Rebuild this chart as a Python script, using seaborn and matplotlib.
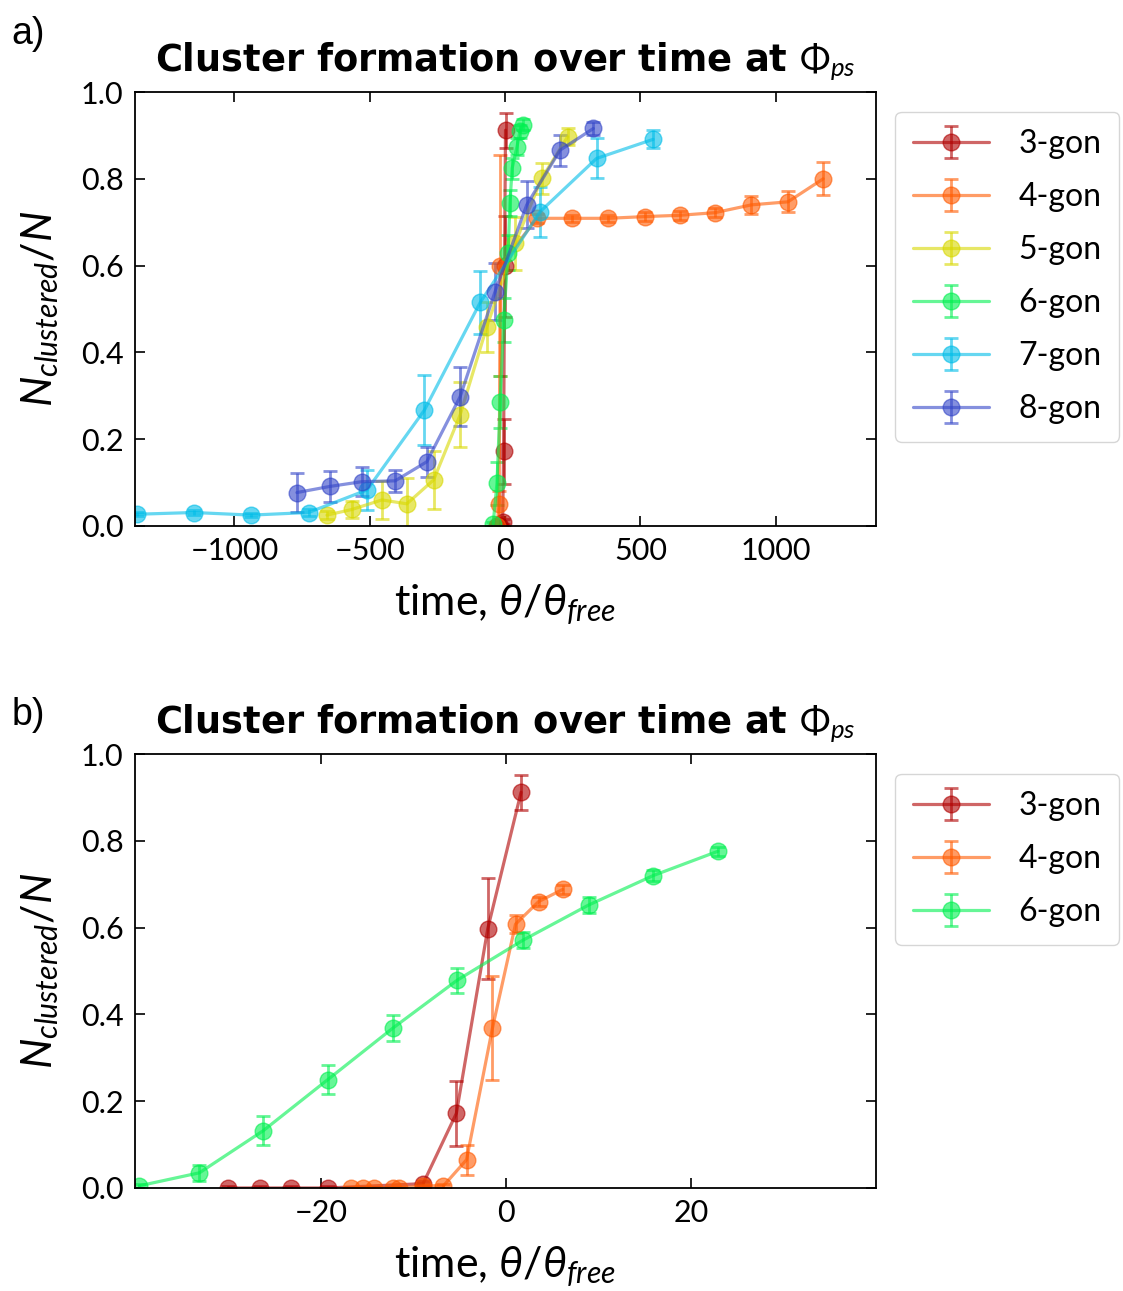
import matplotlib
matplotlib.use("Agg")
import matplotlib.pyplot as plt
import seaborn as sns

# ---------------- data ----------------
labels = ["3-gon", "4-gon", "5-gon", "6-gon", "7-gon", "8-gon"]
colors = ["#b00000", "#ff5a00", "#d8d800", "#00f050", "#00bde8", "#3446c8"]

# 3-gon (shared by both panels)
t3 = [-30.1, -26.7, -23.3, -19.3, -9.0, -5.4, -2.0, 1.6]
y3 = [0.0, 0.0, 0.0, 0.0, 0.01, 0.172, 0.598, 0.912]
e3 = [0.004, 0.004, 0.004, 0.004, 0.006, 0.075, 0.117, 0.04]

# 4-gon, panel a
t4a = [-30, -22, -18, 118, 246, 381, 517, 646, 775, 910, 1045, 1175]
y4a = [0.0, 0.05, 0.60, 0.709, 0.709, 0.709, 0.713, 0.716, 0.722, 0.74, 0.747, 0.80]
e4a = [0.004, 0.03, 0.255, 0.01, 0.008, 0.008, 0.01, 0.01, 0.01, 0.02, 0.024, 0.038]

# 4-gon, panel b
t4b = [-16.8, -15.5, -14.3, -12.3, -11.6, -9.0, -6.8, -4.3, -1.5, 1.0, 3.5, 6.1]
y4b = [0.0, 0.0, 0.0, 0.0, 0.0, 0.005, 0.005, 0.065, 0.368, 0.608, 0.66, 0.688]
e4b = [0.003, 0.003, 0.003, 0.003, 0.003, 0.004, 0.004, 0.035, 0.12, 0.02, 0.01, 0.01]

# 5-gon
t5 = [-658, -566, -455, -363, -264, -166, -68, 37, 135, 231]
y5 = [0.025, 0.038, 0.06, 0.051, 0.106, 0.256, 0.458, 0.651, 0.801, 0.897]
e5 = [0.01, 0.02, 0.044, 0.059, 0.067, 0.075, 0.058, 0.06, 0.035, 0.019]

# 6-gon, panel a
t6a = [-44, -30, -18, -5, 11, 18, 26, 44, 55, 66]
y6a = [0.005, 0.098, 0.286, 0.475, 0.63, 0.744, 0.824, 0.874, 0.91, 0.925]
e6a = [0.005, 0.05, 0.06, 0.05, 0.04, 0.03, 0.025, 0.02, 0.015, 0.012]

# 6-gon, panel b
t6b = [-39.7, -33.2, -26.3, -19.3, -12.3, -5.3, 1.8, 8.9, 15.9, 22.9]
y6b = [0.005, 0.035, 0.132, 0.25, 0.368, 0.479, 0.571, 0.652, 0.72, 0.776]
e6b = [0.005, 0.019, 0.033, 0.034, 0.03, 0.029, 0.018, 0.018, 0.012, 0.01]

# 7-gon
t7 = [-1359, -1150, -938, -726, -510, -298, -92, 129, 338, 547]
y7 = [0.027, 0.031, 0.025, 0.031, 0.083, 0.267, 0.515, 0.724, 0.847, 0.891]
e7 = [0.005, 0.005, 0.005, 0.008, 0.047, 0.08, 0.073, 0.058, 0.046, 0.021]

# 8-gon
t8 = [-769, -648, -529, -406, -289, -166, -37, 80, 203, 326]
y8 = [0.077, 0.091, 0.102, 0.104, 0.148, 0.298, 0.540, 0.74, 0.866, 0.916]
e8 = [0.045, 0.035, 0.033, 0.025, 0.035, 0.068, 0.065, 0.054, 0.036, 0.016]

panel_a = [(t3, y3, e3), (t4a, y4a, e4a), (t5, y5, e5),
           (t6a, y6a, e6a), (t7, y7, e7), (t8, y8, e8)]
panel_b = {0: (t3, y3, e3), 1: (t4b, y4b, e4b), 3: (t6b, y6b, e6b)}

# ---------------- style ----------------
sns.set_theme(style="ticks")
plt.rcParams["font.family"] = ["Lato", "DejaVu Sans"]
plt.rcParams["mathtext.fontset"] = "custom"
plt.rcParams["mathtext.rm"] = "Lato"
plt.rcParams["mathtext.it"] = "Lato:italic"
plt.rcParams["mathtext.bf"] = "Lato:bold"
plt.rcParams["mathtext.fallback"] = "stixsans"
plt.rcParams["axes.unicode_minus"] = True
for key in ("text.color", "axes.labelcolor", "xtick.color", "ytick.color",
            "axes.edgecolor"):
    plt.rcParams[key] = "black"

palette = sns.color_palette(colors)

fig = plt.figure(figsize=(11.23, 12.91), dpi=100)
ax_a = fig.add_axes([0.120, 0.5926, 0.660, 0.3361])
ax_b = fig.add_axes([0.120, 0.0798, 0.660, 0.3361])


def draw(ax, series):
    for i, (t, y, e) in series:
        ax.errorbar(t, y, yerr=e, color=palette[i], alpha=0.6,
                    marker="o", markersize=12, linewidth=2.3,
                    elinewidth=2.0, capsize=5, capthick=2.0,
                    label=labels[i])


def style(ax, xlim, xticks):
    ax.set_xlim(*xlim)
    ax.set_ylim(0.0, 1.0)
    ax.set_xticks(xticks)
    ax.set_yticks([0.0, 0.2, 0.4, 0.6, 0.8, 1.0])
    ax.yaxis.set_major_formatter(matplotlib.ticker.FormatStrFormatter("%.1f"))
    ax.tick_params(direction="in", top=True, right=True, length=7, width=1.2,
                   labelsize=22, pad=8, color="black", labelcolor="black")
    for s in ax.spines.values():
        s.set_linewidth(1.3)
        s.set_color("black")
    ax.set_title(r"Cluster formation over time at $\Phi_{ps}$", fontsize=26.5,
                 fontweight="bold", family=["DejaVu Sans"], pad=15,
                 color="black")
    ax.set_xlabel(r"time, $\theta/\theta_{free}$", fontsize=31, labelpad=13)
    ax.set_ylabel(r"$N_{clustered}/N$", fontsize=31, labelpad=14)
    ax.legend(loc="upper left", bbox_to_anchor=(1.026, 0.955), fontsize=23,
              handlelength=2.4, labelspacing=0.72, borderpad=0.55,
              frameon=True, fancybox=True, edgecolor="#cccccc",
              handletextpad=0.9, borderaxespad=0.0)


draw(ax_a, list(enumerate(panel_a)))
style(ax_a, (-1368, 1370), [-1000, -500, 0, 500, 1000])

draw(ax_b, sorted(panel_b.items()))
style(ax_b, (-40.2, 40.0), [-20, 0, 20])

fig.text(0.010, 0.966, "a)", fontsize=27, family="Liberation Sans")
fig.text(0.010, 0.4385, "b)", fontsize=27, family="Liberation Sans")

fig.savefig("out.png", dpi=100)
